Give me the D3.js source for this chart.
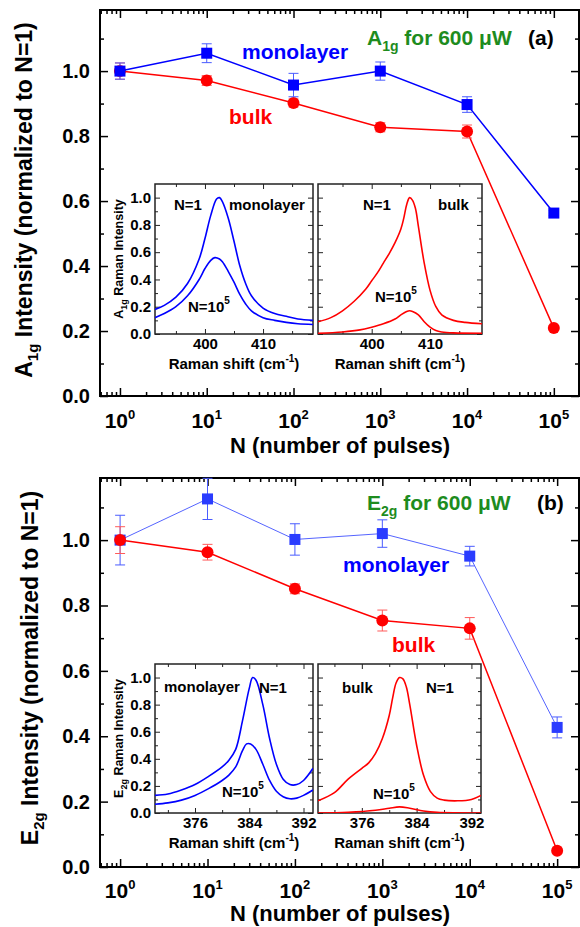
<!DOCTYPE html>
<html>
<head>
<meta charset="utf-8">
<script src="https://cdn.jsdelivr.net/npm/d3@7"></script>
<style>
body { margin: 0; background: #fff; }
svg { display: block; font-family: "Liberation Sans", Arial, sans-serif; font-weight: bold; }
</style>
</head>
<body>
<svg id="chart" width="580" height="927"></svg>
<script>

// Main data (intensity normalized to N=1)

var pulses = [1, 10, 100, 1000, 10000, 100000];

var a1gMono = [1.0, 1.055, 0.957, 1.0, 0.897, 0.563];
var a1gMonoErr = [0.025, 0.029, 0.036, 0.028, 0.024, 0.008];
var a1gBulk = [1.0, 0.971, 0.902, 0.827, 0.814, 0.209];
var a1gBulkErr = [0.025, 0.015, 0.012, 0.014, 0.02, 0.008];

var e2gMono = [1.0, 1.126, 1.002, 1.02, 0.951, 0.427];
var e2gMonoErr = [0.076, 0.063, 0.048, 0.042, 0.03, 0.032];
var e2gBulk = [1.0, 0.963, 0.851, 0.754, 0.730, 0.05];
var e2gBulkErr = [0.041, 0.024, 0.015, 0.032, 0.033, 0.008];

var yTicks = [0, 0.2, 0.4, 0.6, 0.8, 1.0];
var yTickLabels = ["0.0", "0.2", "0.4", "0.6", "0.8", "1.0"];
var yMinor = [0.1, 0.3, 0.5, 0.7, 0.9, 1.1];
var decades = [1, 10, 100, 1000, 10000, 100000];
var decadeExp = ["0", "1", "2", "3", "4", "5"];

// Inset spectra [Raman shift, intensity]

var a1gMonoN1 = [[391.4,0.18],[393,0.21],[395,0.27],[397,0.37],[399,0.55],[400,0.70],[401,0.87],[402,0.99],[402.5,1.0],[403,0.97],[404,0.85],[405,0.68],[406,0.50],[407,0.37],[408,0.28],[410,0.19],[412,0.15],[414,0.13],[416,0.11],[418.6,0.10]];
var a1gMonoN5 = [[391.4,0.12],[393,0.15],[395,0.20],[397,0.28],[399,0.40],[400,0.48],[401,0.54],[401.7,0.56],[402.5,0.55],[403,0.53],[404,0.46],[405,0.38],[406,0.29],[407,0.22],[408,0.17],[410,0.12],[412,0.10],[414,0.085],[416,0.075],[418.6,0.07]];
var a1gBulkN1 = [[390.8,0.09],[393,0.12],[395,0.17],[397,0.24],[399,0.33],[400,0.39],[401,0.45],[402,0.52],[403,0.59],[404,0.67],[405,0.77],[405.5,0.85],[406,0.95],[406.5,1.0],[407,0.98],[407.5,0.92],[408,0.79],[409,0.52],[410,0.32],[411,0.20],[412,0.14],[414,0.10],[416,0.085],[418.9,0.075]];
var a1gBulkN5 = [[390.8,0.005],[395,0.015],[398,0.03],[400,0.05],[402,0.075],[404,0.11],[405,0.14],[406,0.165],[406.5,0.17],[407,0.165],[408,0.14],[409,0.09],[410,0.05],[411,0.025],[412,0.015],[414,0.008],[418.9,0.005]];

var e2gMonoN1 = [[370.1,0.13],[372,0.14],[374,0.17],[376,0.21],[378,0.27],[380,0.34],[381,0.39],[382,0.47],[383,0.68],[384,0.92],[384.5,1.0],[385,0.98],[386,0.80],[387,0.55],[388,0.36],[389,0.25],[390,0.21],[391,0.21],[392,0.24],[393.4,0.33]];
var e2gMonoN5 = [[370.1,0.065],[372,0.075],[374,0.095],[376,0.13],[378,0.18],[380,0.24],[381,0.28],[382,0.34],[383,0.46],[383.6,0.51],[384.2,0.51],[385,0.47],[386,0.36],[387,0.24],[388,0.16],[389,0.12],[390,0.105],[391,0.11],[392,0.13],[393.4,0.17]];
var e2gBulkN1 = [[369.6,0.09],[372,0.15],[374,0.25],[376,0.33],[377,0.37],[378,0.44],[379,0.55],[380,0.72],[380.5,0.85],[381,0.96],[381.5,1.0],[382,0.99],[382.5,0.93],[383,0.80],[384,0.50],[385,0.28],[386,0.16],[387,0.11],[388,0.095],[390,0.09],[392,0.10],[393.4,0.13]];
var e2gBulkN5 = [[369.6,0.0],[374,0.005],[378,0.02],[380,0.035],[381.5,0.045],[383,0.035],[385,0.015],[387,0.005],[393.4,0.0]];

var svg = d3.select("#chart");

var blue = "#0000ff";
var red = "#ff0000";
var green = "#1e8c1e";

// Main panel

function mainPanel(p) {

	var g = svg.append("g");
	var x = d3.scaleLog().domain(p.xDomain).range([p.left, p.right]);
	var y = d3.scaleLinear().domain([0, p.yMax]).range([p.bottom, p.top]);

	var minors = [];
	[0.1, 1, 10, 100, 1000, 10000, 100000].forEach(function(dec) {
		for (var k = 2; k <= 9; k++) {
			var v = dec * k;
			if (v > p.xDomain[0] && v < p.xDomain[1]) minors.push(v);
		}
	});

	function tickAxis(axis, transform) {
		var a = g.append("g").attr("transform", transform).call(axis);
		a.select(".domain").remove();
		a.selectAll("line").attr("stroke", "#000").attr("stroke-width", 1.5);
		return a;
	}

	// x ticks, bottom and top, pointing inward
	tickAxis(d3.axisBottom(x).tickValues(decades).tickFormat("").tickSize(-8).tickSizeOuter(0), "translate(0," + p.bottom + ")");
	tickAxis(d3.axisBottom(x).tickValues(minors).tickFormat("").tickSize(-4).tickSizeOuter(0), "translate(0," + p.bottom + ")");
	tickAxis(d3.axisTop(x).tickValues(decades).tickFormat("").tickSize(-8).tickSizeOuter(0), "translate(0," + p.top + ")");
	tickAxis(d3.axisTop(x).tickValues(minors).tickFormat("").tickSize(-4).tickSizeOuter(0), "translate(0," + p.top + ")");

	// y ticks
	var yl = tickAxis(d3.axisLeft(y).tickValues(yTicks).tickFormat(function(d, i) { return yTickLabels[i]; }).tickSize(-8).tickPadding(10).tickSizeOuter(0), "translate(" + p.left + ",0)");
	yl.selectAll("text").attr("font-size", 20).attr("font-family", null).attr("fill", "#000");
	tickAxis(d3.axisLeft(y).tickValues(yMinor).tickFormat("").tickSize(-4).tickSizeOuter(0), "translate(" + p.left + ",0)");
	tickAxis(d3.axisRight(y).tickValues(yTicks).tickFormat("").tickSize(-8).tickSizeOuter(0), "translate(" + p.right + ",0)");
	tickAxis(d3.axisRight(y).tickValues(yMinor).tickFormat("").tickSize(-4).tickSizeOuter(0), "translate(" + p.right + ",0)");

	g.append("rect")
		.attr("x", p.left).attr("y", p.top)
		.attr("width", p.right - p.left).attr("height", p.bottom - p.top)
		.attr("fill", "none").attr("stroke", "#000").attr("stroke-width", 2);

	// x tick labels 10^n
	var xl = g.append("g").selectAll("text").data(decades).join("text")
		.attr("x", function(d) { return x(d); })
		.attr("y", p.tickLabelY)
		.attr("text-anchor", "middle")
		.attr("font-size", 21);
	xl.append("tspan").text("10");
	xl.append("tspan").attr("dy", -9).attr("font-size", 13).text(function(d, i) { return decadeExp[i]; });

	g.append("text")
		.attr("x", 340).attr("y", p.titleY)
		.attr("text-anchor", "middle").attr("font-size", 22)
		.text("N (number of pulses)");

	var yt = g.append("text")
		.attr("transform", "translate(" + p.yTitleX + "," + p.yTitleY + ") rotate(-90)")
		.attr("text-anchor", "middle").attr("font-size", 23);
	yt.append("tspan").text(p.mode[0]);
	yt.append("tspan").attr("font-size", 15).attr("dy", 6).text(p.mode.slice(1));
	yt.append("tspan").attr("dy", -6).text(" Intensity (normalized to N=1)");

	// insets first, then data on top
	p.insets.forEach(function(ins) { inset(g, ins); });

	function series(vals, errs, color, errColor, width, marker) {
		var pts = pulses.map(function(d, i) { return [d, vals[i], errs[i]]; });
		g.append("path").datum(pts)
			.attr("fill", "none").attr("stroke", color).attr("stroke-width", width)
			.attr("d", d3.line().x(function(d) { return x(d[0]); }).y(function(d) { return y(d[1]); }));
		var eb = g.append("g").attr("stroke", errColor).attr("stroke-width", 1);
		pts.forEach(function(d) {
			var cx = x(d[0]);
			eb.append("line").attr("x1", cx).attr("x2", cx).attr("y1", y(d[1] - d[2])).attr("y2", y(d[1] + d[2]));
			eb.append("line").attr("x1", cx - 5).attr("x2", cx + 5).attr("y1", y(d[1] - d[2])).attr("y2", y(d[1] - d[2]));
			eb.append("line").attr("x1", cx - 5).attr("x2", cx + 5).attr("y1", y(d[1] + d[2])).attr("y2", y(d[1] + d[2]));
		});
		if (marker == "square") {
			g.append("g").selectAll("rect").data(pts).join("rect")
				.attr("x", function(d) { return x(d[0]) - 5.5; })
				.attr("y", function(d) { return y(d[1]) - 5.5; })
				.attr("width", 11).attr("height", 11).attr("fill", color);
		} else {
			g.append("g").selectAll("circle").data(pts).join("circle")
				.attr("cx", function(d) { return x(d[0]); })
				.attr("cy", function(d) { return y(d[1]); })
				.attr("r", 6).attr("fill", color);
		}
	}

	p.series.forEach(function(s) { series(s[0], s[1], s[2], s[3], s[4], s[5]); });

	p.labels.forEach(function(l) {
		var t = g.append("text").attr("x", l.x).attr("y", l.y).attr("fill", l.color).attr("font-size", l.size || 21);
		if (l.sub) {
			t.append("tspan").text(l.text);
			t.append("tspan").attr("font-size", 14).attr("dy", 6).text(l.sub);
			t.append("tspan").attr("dy", -6).text(l.rest);
		} else {
			t.text(l.text);
		}
	});
}

// Inset spectra

function inset(g, s) {
	var x = d3.scaleLinear().domain(s.xDomain).range([s.left, s.right]);
	var y = d3.scaleLinear().domain([0, 1.1]).range([s.bottom, s.top]);
	var ig = g.append("g");

	ig.append("rect")
		.attr("x", s.left).attr("y", s.top)
		.attr("width", s.right - s.left).attr("height", s.bottom - s.top)
		.attr("fill", "#fff").attr("stroke", "#222").attr("stroke-width", 1.5);

	function ticks(axis, transform) {
		var a = ig.append("g").attr("transform", transform).call(axis);
		a.select(".domain").remove();
		a.selectAll("line").attr("stroke", "#222").attr("stroke-width", 1);
		return a;
	}

	var xb = ticks(d3.axisBottom(x).tickValues(s.xTicks).tickSize(-5).tickPadding(4).tickSizeOuter(0), "translate(0," + s.bottom + ")");
	xb.selectAll("text").attr("font-size", 15).attr("font-family", null).attr("fill", "#000").attr("dy", "0.75em");
	ticks(d3.axisBottom(x).tickValues(s.xMinor).tickFormat("").tickSize(-3).tickSizeOuter(0), "translate(0," + s.bottom + ")");
	ticks(d3.axisTop(x).tickValues(s.xTicks).tickFormat("").tickSize(-5).tickSizeOuter(0), "translate(0," + s.top + ")");
	ticks(d3.axisTop(x).tickValues(s.xMinor).tickFormat("").tickSize(-3).tickSizeOuter(0), "translate(0," + s.top + ")");

	var yAx = d3.axisLeft(y).tickValues(yTicks).tickSize(-5).tickPadding(4).tickSizeOuter(0)
		.tickFormat(function(d, i) { return s.yLabels ? yTickLabels[i] : ""; });
	var ya = ticks(yAx, "translate(" + s.left + ",0)");
	ya.selectAll("text").attr("font-size", 15).attr("font-family", null).attr("fill", "#000");
	ticks(d3.axisLeft(y).tickValues([0.1, 0.3, 0.5, 0.7, 0.9]).tickFormat("").tickSize(-3).tickSizeOuter(0), "translate(" + s.left + ",0)");
	ticks(d3.axisRight(y).tickValues(yTicks).tickFormat("").tickSize(-5).tickSizeOuter(0), "translate(" + s.right + ",0)");
	ticks(d3.axisRight(y).tickValues([0.1, 0.3, 0.5, 0.7, 0.9]).tickFormat("").tickSize(-3).tickSizeOuter(0), "translate(" + s.right + ",0)");

	var clipId = "clip" + s.id;
	ig.append("clipPath").attr("id", clipId).append("rect")
		.attr("x", s.left).attr("y", s.top).attr("width", s.right - s.left).attr("height", s.bottom - s.top);

	var line = d3.line().x(function(d) { return x(d[0]); }).y(function(d) { return y(d[1]); }).curve(d3.curveCatmullRom.alpha(0.5));
	s.curves.forEach(function(c) {
		ig.append("path").datum(c)
			.attr("clip-path", "url(#" + clipId + ")")
			.attr("fill", "none").attr("stroke", s.color).attr("stroke-width", 1.6)
			.attr("d", line);
	});

	var xt = ig.append("text")
		.attr("x", (s.left + s.right) / 2).attr("y", s.titleY)
		.attr("text-anchor", "middle").attr("font-size", 15);
	xt.append("tspan").text("Raman shift (cm");
	xt.append("tspan").attr("font-size", 10).attr("dy", -7).text("-1");
	xt.append("tspan").attr("dy", 7).text(")");

	if (s.yLabels) {
		var yt = ig.append("text")
			.attr("transform", "translate(" + (s.left - 32) + "," + ((s.top + s.bottom) / 2) + ") rotate(-90)")
			.attr("text-anchor", "middle").attr("font-size", 12.5);
		yt.append("tspan").text(s.mode[0]);
		yt.append("tspan").attr("font-size", 9).attr("dy", 4).text(s.mode.slice(1));
		yt.append("tspan").attr("dy", -4).text(" Raman Intensity");
	}

	s.notes.forEach(function(n) {
		var t = ig.append("text").attr("x", n[0]).attr("y", n[1]).attr("font-size", 15);
		if (n[2] == "N=10^5") {
			t.append("tspan").text("N=10");
			t.append("tspan").attr("font-size", 10).attr("dy", -8).text("5");
		} else {
			t.text(n[2]);
		}
	});
}

// Panel (a)

mainPanel({
	left: 100, right: 579, top: 10, bottom: 396,
	xDomain: [Math.pow(10, -0.23), Math.pow(10, 5.29)],
	yMax: 1.188,
	tickLabelY: 428, titleY: 453,
	yTitleX: 32, yTitleY: 200,
	mode: "A1g",
	insets: [
		{ id: "a1", left: 155, right: 313, top: 184, bottom: 334, xDomain: [391.4, 418.6], xTicks: [400, 410], xMinor: [395, 405, 415],
		  yLabels: true, mode: "A1g", color: blue, titleY: 369, curves: [a1gMonoN1, a1gMonoN5],
		  notes: [[174, 210, "N=1"], [229, 210, "monolayer"], [188, 312, "N=10^5"]] },
		{ id: "a2", left: 318, right: 482, top: 184, bottom: 334, xDomain: [390.8, 418.9], xTicks: [400, 410], xMinor: [395, 405, 415],
		  yLabels: false, color: red, titleY: 369, curves: [a1gBulkN1, a1gBulkN5],
		  notes: [[363, 210, "N=1"], [438, 210, "bulk"], [375, 302, "N=10^5"]] }
	],
	series: [
		[a1gBulk, a1gBulkErr, red, "#ff5a5a", 1.5, "circle"],
		[a1gMono, a1gMonoErr, blue, "#4a5cff", 1.5, "square"]
	],
	labels: [
		{ x: 242, y: 59, text: "monolayer", color: blue },
		{ x: 229, y: 124, text: "bulk", color: red },
		{ x: 367, y: 45, text: "A", sub: "1g", rest: " for 600 \u03bcW", color: green },
		{ x: 528, y: 45, text: "(a)", color: "#000" }
	]
});

// Panel (b)

mainPanel({
	left: 100, right: 579, top: 478, bottom: 867,
	xDomain: [Math.pow(10, -0.23), Math.pow(10, 5.25)],
	yMax: 1.19,
	tickLabelY: 898, titleY: 921,
	yTitleX: 38, yTitleY: 668,
	mode: "E2g",
	insets: [
		{ id: "b1", left: 155, right: 313, top: 664, bottom: 813, xDomain: [370.1, 393.4], xTicks: [376, 384, 392], xMinor: [372, 380, 388],
		  yLabels: true, mode: "E2g", color: blue, titleY: 848, curves: [e2gMonoN1, e2gMonoN5],
		  notes: [[164, 692, "monolayer"], [259, 693, "N=1"], [222, 797, "N=10^5"]] },
		{ id: "b2", left: 318, right: 481, top: 664, bottom: 813, xDomain: [369.6, 393.4], xTicks: [376, 384, 392], xMinor: [372, 380, 388],
		  yLabels: false, color: red, titleY: 848, curves: [e2gBulkN1, e2gBulkN5],
		  notes: [[342, 693, "bulk"], [426, 693, "N=1"], [373, 799, "N=10^5"]] }
	],
	series: [
		[e2gMono, e2gMonoErr, "#2a3cff", "#4a5cff", 0.8, "square"],
		[e2gBulk, e2gBulkErr, red, "#ff5a5a", 1.5, "circle"]
	],
	labels: [
		{ x: 343, y: 572, text: "monolayer", color: blue },
		{ x: 392, y: 652, text: "bulk", color: red },
		{ x: 367, y: 510, text: "E", sub: "2g", rest: " for 600 \u03bcW", color: green },
		{ x: 537, y: 510, text: "(b)", color: "#000" }
	]
});

</script>
</body>
</html>
